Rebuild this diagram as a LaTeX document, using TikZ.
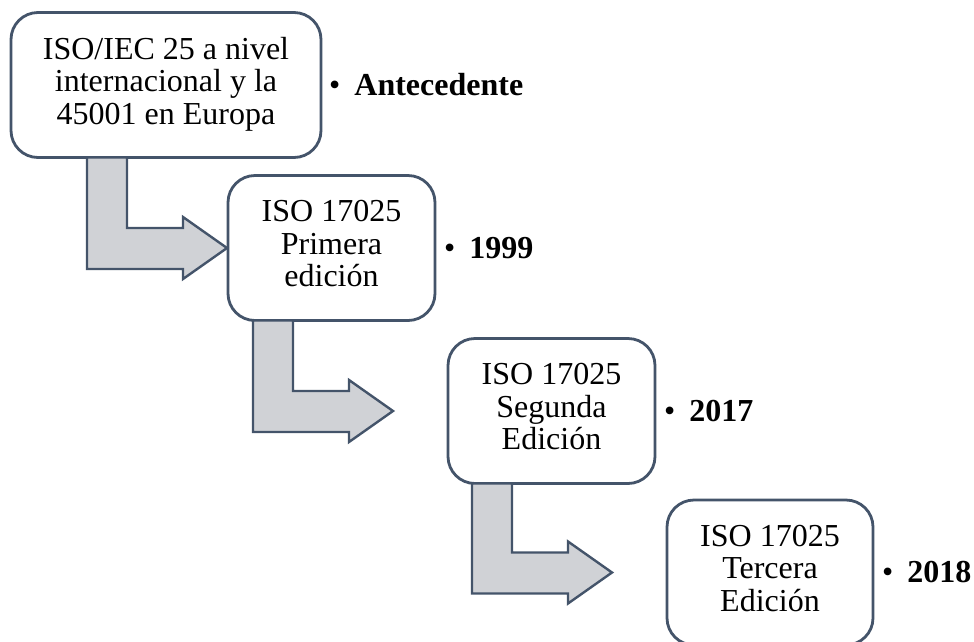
\documentclass[tikz,border=0pt]{standalone}
\usepackage{fontspec}
\setmainfont{Liberation Serif}
\usetikzlibrary{calc}
\usetikzlibrary{positioning}

\definecolor{bordegris}{HTML}{44546A}
\definecolor{rellenogris}{HTML}{D0D2D6}

\tikzset{
  caja/.style={draw=bordegris, line width=2.8pt, fill=white, rounded corners=27pt,
    minimum height=145pt, align=center, inner sep=0pt, outer sep=0pt,
    font=\fontsize{32}{32.5}\selectfont,
    execute at begin node={\rule{0pt}{30pt}},
    execute at end node={\rule[-9pt]{0pt}{9pt}}},
  flecha/.style={draw=bordegris, line width=2.4pt, fill=rellenogris, line join=miter},
  etiqueta/.style={inner sep=0pt, font=\fontsize{32}{33}\selectfont},
}

% flecha en L: desde el borde inferior de #1 (desplazada #2) hacia la altura de #3
\newcommand{\flechaL}[3]{%
  \path ($(#1.south west)+(#2,0)$) coordinate (p) (#3.west) coordinate (q);
  \draw[flecha] (p) -- ++(40,0) -- ($(p |- q)+(40,-20)$) -- ($(p |- q)+(96,-20)$)
    -- ($(p |- q)+(96,-31)$) -- ($(p |- q)+(140,0)$) -- ($(p |- q)+(96,31)$)
    -- ($(p |- q)+(96,21)$) -- ($(p |- q)+(0,21)$) -- cycle;}

\begin{document}
\begin{tikzpicture}[x=1pt, y=-1pt]
\useasboundingbox (0,0) rectangle (974,641);
\clip (0,0) rectangle (974,641);

\draw node[caja, minimum width=310pt] (b1) at (166,85) {ISO/IEC 25 a nivel\\internacional y la\\45001 en Europa};
\draw node[caja, minimum width=207pt] (b2) at (331.5,248) {ISO 17025\\Primera\\edición};
\draw node[caja, minimum width=207pt] (b3) at (551.5,411) {ISO 17025\\Segunda\\Edición};
\draw node[caja, minimum width=206pt] (b4) at (770,572.5) {ISO 17025\\Tercera\\Edición};

\flechaL{b1}{76}{b2}
\flechaL{b2}{25}{b3}
\flechaL{b3}{24}{b4}

\node[etiqueta, right=8pt of b1] (e1) {•\hspace{14pt}\textbf{Antecedente}};
\node[etiqueta, right=9pt of b2] (e2) {•\hspace{14pt}\textbf{1999}};
\node[etiqueta, right=9pt of b3] (e3) {•\hspace{14pt}\textbf{2017}};
\node[etiqueta, right=9pt of b4] (e4) {•\hspace{14pt}\textbf{2018}};
\end{tikzpicture}
\end{document}
